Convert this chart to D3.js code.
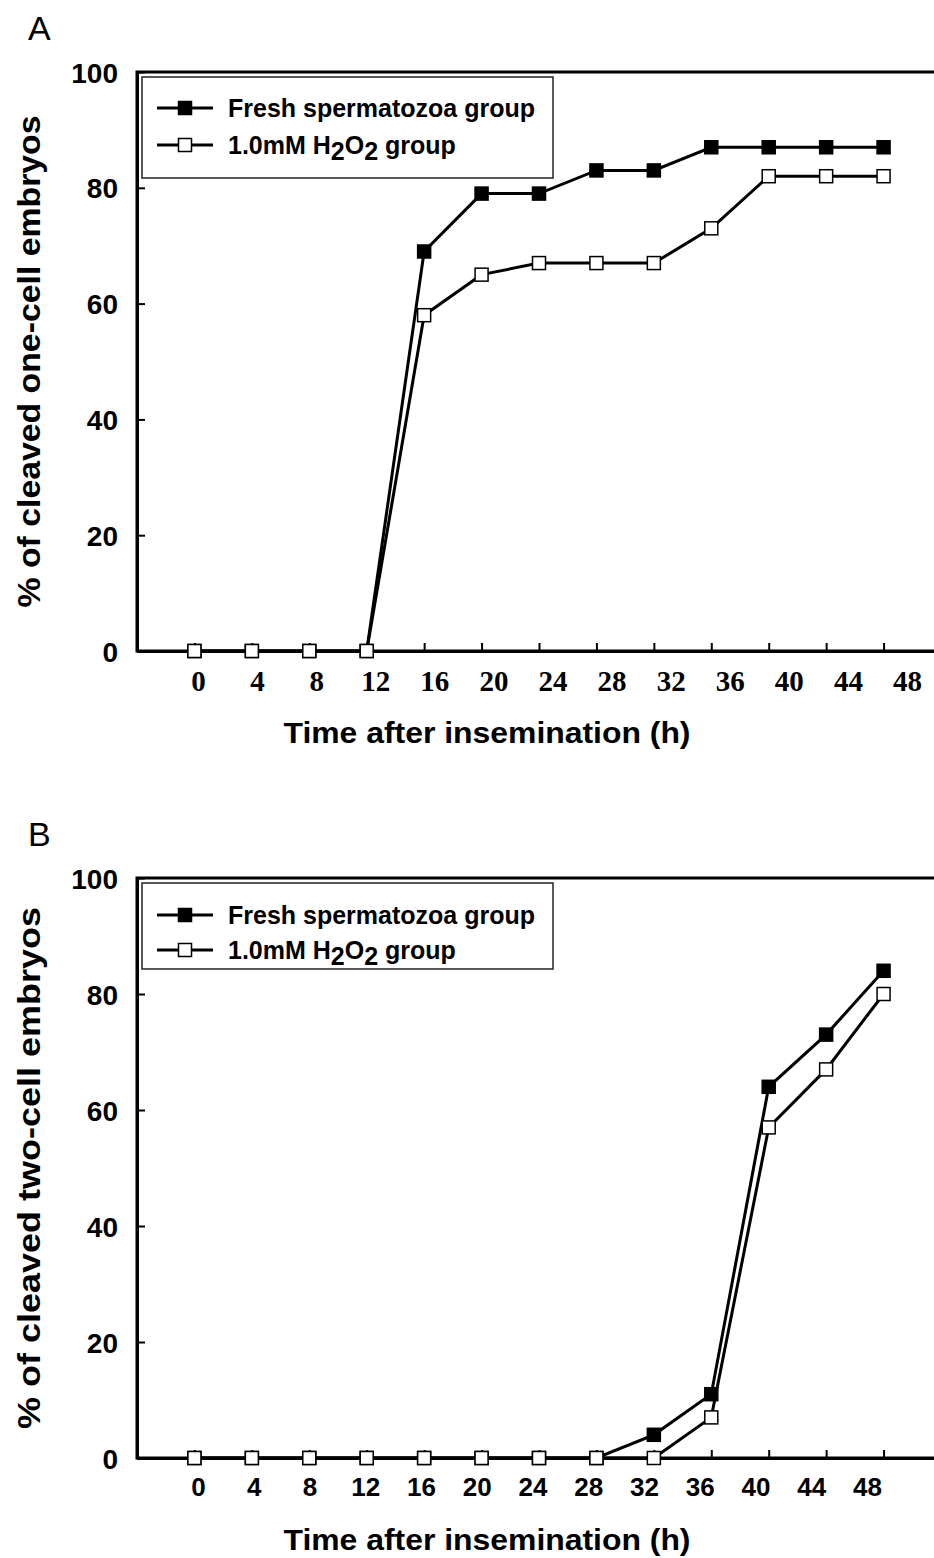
<!DOCTYPE html>
<meta charset="utf-8">
<style>
body { margin: 0; background: #fff; }
text { font-family: "Liberation Sans", Arial, sans-serif; fill: #000; }
.bold { font-weight: bold; }
.serif text { font-family: "Liberation Serif", "Times New Roman", serif; }
</style>
<body>
<script src="https://d3js.org/d3.v7.min.js"></script>
<script>

// data
var hours = [0, 4, 8, 12, 16, 20, 24, 28, 32, 36, 40, 44, 48];
var freshOneCell = [0, 0, 0, 0, 69, 79, 79, 83, 83, 87, 87, 87, 87];
var h2o2OneCell  = [0, 0, 0, 0, 58, 65, 67, 67, 67, 73, 82, 82, 82];
var freshTwoCell = [0, 0, 0, 0, 0, 0, 0, 0, 4, 11, 64, 73, 84];
var h2o2TwoCell  = [0, 0, 0, 0, 0, 0, 0, 0, 0, 7, 57, 67, 80];
var yTicks = [0, 20, 40, 60, 80, 100];
var seriesNames = ["Fresh spermatozoa group", "1.0mM H2O2 group"];

var W = 934, H = 1558;
var svg = d3.select("body").append("svg")
    .attr("width", W)
    .attr("height", H);

// shared x scale (by time-point index, one empty step each side)
var x = d3.scaleLinear().domain([-1, hours.length]).range([137, 941]);

function drawPanel(p) {
  var g = svg.append("g");
  var y = d3.scaleLinear().domain([0, 100]).range([p.bottom, p.top]);

  // panel letter
  g.append("text")
      .attr("x", 28).attr("y", p.top - 32)
      .style("font-size", "34px")
      .text(p.letter);

  // frame (right side runs off the page)
  g.append("rect")
      .attr("x", x(-1)).attr("y", p.top)
      .attr("width", x(hours.length) - x(-1))
      .attr("height", p.bottom - p.top)
      .attr("fill", "none").attr("stroke", "#000").attr("stroke-width", 3);

  // y axis, ticks pointing in
  var yAxis = g.append("g")
      .attr("transform", "translate(" + x(-1) + ",0)")
      .call(d3.axisLeft(y).tickValues(yTicks).tickSize(-8).tickSizeOuter(0).tickPadding(19));
  yAxis.select(".domain").attr("stroke-width", 3);
  yAxis.selectAll(".tick line").attr("stroke-width", 2);
  yAxis.selectAll(".tick text")
      .attr("class", "bold")
      .style("font-size", "28px")
      .style("font-family", "'Liberation Sans', Arial, sans-serif")
      .attr("dy", "0.36em");

  // x tick marks at each time point, pointing up
  var xTickAxis = g.append("g")
      .attr("transform", "translate(0," + p.bottom + ")")
      .call(d3.axisBottom(x).tickValues(d3.range(hours.length)).tickSize(-8).tickSizeOuter(0).tickFormat(""));
  xTickAxis.select(".domain").attr("stroke-width", 3);
  xTickAxis.selectAll(".tick line").attr("stroke-width", 2);

  // x tick labels (placed a little loosely, like the original)
  var xl = d3.scalePoint().domain(hours).range(p.labelRange);
  var xLab = g.append("g")
      .attr("class", p.serifLabels ? "serif" : "")
      .attr("transform", "translate(0," + p.bottom + ")")
      .call(d3.axisBottom(xl).tickSize(0).tickPadding(p.serifLabels ? 19 : 20));
  xLab.select(".domain").remove();
  xLab.selectAll(".tick text")
      .attr("class", "bold")
      .style("font-size", p.serifLabels ? "29px" : "26px")
      .style("font-family", p.serifLabels ? "'Liberation Serif', 'Times New Roman', serif" : "'Liberation Sans', Arial, sans-serif");

  // axis titles
  g.append("text")
      .attr("class", "bold")
      .attr("text-anchor", "middle")
      .attr("x", 487).attr("y", p.bottom + 92)
      .attr("textLength", 407).attr("lengthAdjust", "spacingAndGlyphs")
      .style("font-size", "30px")
      .text("Time after insemination (h)");

  g.append("text")
      .attr("class", "bold")
      .attr("text-anchor", "middle")
      .attr("transform", "translate(40," + ((p.top + p.bottom) / 2) + ") rotate(-90)")
      .attr("textLength", p.yTitleLen).attr("lengthAdjust", "spacingAndGlyphs")
      .style("font-size", "32px")
      .text(p.yTitle);

  // series
  var line = d3.line()
      .x(function(d, i) { return x(i); })
      .y(function(d) { return y(d); });

  var series = [
    {values: p.fresh, fill: "#000"},
    {values: p.h2o2, fill: "#fff"}
  ];
  series.forEach(function(s) {
    g.append("path")
        .datum(s.values)
        .attr("d", line)
        .attr("fill", "none")
        .attr("stroke", "#000")
        .attr("stroke-width", 3);
  });
  series.forEach(function(s) {
    g.selectAll(null)
        .data(s.values)
        .enter().append("rect")
        .attr("x", function(d, i) { return x(i) - 6.5; })
        .attr("y", function(d) { return y(d) - 6.5; })
        .attr("width", 13).attr("height", 13)
        .attr("fill", s.fill)
        .attr("stroke", "#000").attr("stroke-width", 1.5);
  });

  // legend
  var lg = g.append("g").attr("transform", "translate(142," + (p.top + 5) + ")");
  lg.append("rect")
      .attr("width", 411).attr("height", p.legendH)
      .attr("fill", "#fff").attr("stroke", "#222").attr("stroke-width", 1.5);
  series.forEach(function(s, i) {
    var ry = p.legendRow0 + i * p.legendStep;
    lg.append("line")
        .attr("x1", 15).attr("x2", 71).attr("y1", ry).attr("y2", ry)
        .attr("stroke", "#000").attr("stroke-width", 3);
    lg.append("rect")
        .attr("x", 43 - 6.5).attr("y", ry - 6.5)
        .attr("width", 13).attr("height", 13)
        .attr("fill", s.fill).attr("stroke", "#000").attr("stroke-width", 1.5);
    var t = lg.append("text")
        .attr("class", "bold")
        .attr("x", 86).attr("y", ry + 9)
        .style("font-size", "25px");
    if (i === 0) {
      t.text(seriesNames[0]);
    } else {
      t.append("tspan").text("1.0mM H");
      t.append("tspan").attr("dy", 6).text("2");
      t.append("tspan").attr("dy", -6).text("O");
      t.append("tspan").attr("dy", 6).text("2");
      t.append("tspan").attr("dy", -6).text(" group");
    }
  });
}

drawPanel({
  letter: "A", top: 72, bottom: 651,
  fresh: freshOneCell, h2o2: h2o2OneCell,
  labelRange: [198, 907], serifLabels: true,
  yTitle: "% of cleaved one-cell embryos", yTitleLen: 492,
  legendH: 101, legendRow0: 31, legendStep: 37
});

drawPanel({
  letter: "B", top: 878, bottom: 1458,
  fresh: freshTwoCell, h2o2: h2o2TwoCell,
  labelRange: [198, 867], serifLabels: false,
  yTitle: "% of cleaved two-cell embryos", yTitleLen: 522,
  legendH: 86, legendRow0: 32, legendStep: 35
});

</script>
</body>
